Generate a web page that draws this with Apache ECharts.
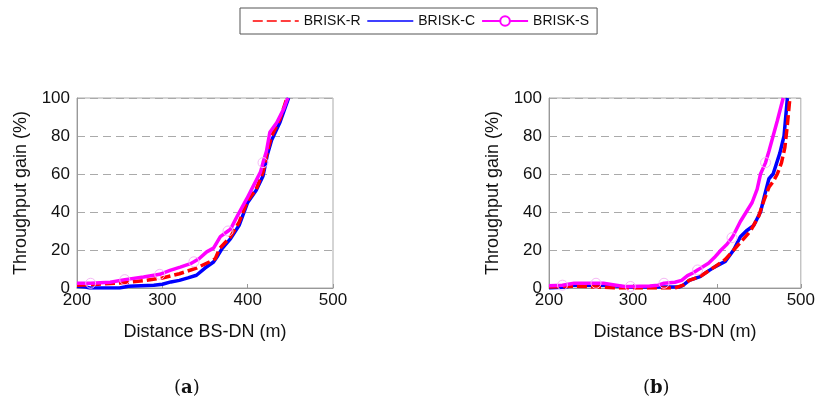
<!DOCTYPE html>
<html>
<head>
<meta charset="utf-8">
<script src="https://cdn.jsdelivr.net/npm/echarts@6/dist/echarts.min.js"></script>
<style>
  html, body { margin: 0; padding: 0; background: #fff; }
  #chart { width: 818px; height: 398px; }
</style>
</head>
<body>
<div id="chart"></div>
<script>
// panel (a)
var aDistR = [200, 225, 260, 280, 300, 320, 340, 355, 362, 367, 380, 390, 400, 410, 418, 423, 428, 438, 446];
var aGainR = [1.4, 2, 3, 4, 5.3, 7.5, 10.5, 13.7, 15.4, 20.7, 27, 34.7, 46, 52, 61, 71.6, 80, 89, 100];
var aDistC = [200, 210, 215, 250, 260, 290, 300, 310, 320, 330, 340, 350, 360, 365, 370, 380, 390, 400, 410, 418, 423, 428, 438, 448];
var aGainC = [0.9, 0.5, 0, 0, 0.9, 1.4, 2, 3.2, 4, 5.3, 6.7, 10.5, 13.7, 17, 20.7, 26, 33, 45, 51.4, 59, 70, 77.7, 87.4, 100];
var aDistS = [200, 216, 239, 256, 278, 297, 309, 321, 333, 337, 343, 352, 360, 368, 377, 380, 388, 399, 407, 415, 418, 422, 426, 434, 442, 447];
var aGainS = [2.5, 2.5, 3, 4.4, 5.8, 7.2, 9.3, 11, 12.8, 13.8, 15.4, 19, 21, 27, 30, 31, 38, 47, 54, 61, 66, 72, 82, 87, 94, 100];

// panel (b)
var bDistR = [200, 230, 260, 280, 350, 360, 367, 380, 390, 397, 410, 420, 430, 440, 450, 456, 462, 467, 472, 477, 481, 484, 487];
var bGainR = [0.5, 1, 0.5, 0, 0, 1.5, 4, 6, 9, 11, 15, 20, 25, 30, 38, 46, 53, 56, 60, 66, 74, 86, 100];
var bDistC = [200, 220, 230, 265, 280, 290, 355, 360, 367, 380, 390, 397, 410, 420, 428, 435, 444, 452, 457, 462, 467, 475, 480, 484];
var bGainC = [0, 0.5, 1.5, 1.5, 1, 0.5, 0.5, 1.5, 4, 6, 9, 11, 14, 20, 27, 30, 33, 40, 49, 57.5, 60, 71, 80, 100];
var bDistS = [200, 216, 230, 256, 265, 280, 290, 297, 320, 330, 337, 350, 358, 365, 372, 377, 381, 390, 397, 405, 412, 418, 420, 428, 435, 442, 448, 452, 458, 462, 467, 472, 479];
var bGainS = [1.2, 1.5, 2.5, 2.5, 2.5, 1.5, 0.8, 0.8, 1, 1.5, 2.5, 3, 4, 6.5, 8, 9.5, 10.5, 13, 16, 20, 23, 26.5, 28, 35, 40, 45, 52, 60, 66, 72, 80, 88, 100];

// where the faint circle markers of BRISK-S sit
var markerDist = [216, 256, 297, 337, 377, 418, 458];

var panelLabels = ['a', 'b'];

var FONT = 'Liberation Sans';

function pairs(xs, ys, withMarkers) {
  return xs.map(function (x, i) {
    if (!withMarkers) return [x, ys[i]];
    if (markerDist.indexOf(x) >= 0) {
      return {
        value: [x, ys[i]], symbol: 'circle', symbolSize: 10,
        itemStyle: { color: 'rgba(255,255,255,0)', borderColor: '#f5b8f5', borderWidth: 1 }
      };
    }
    return { value: [x, ys[i]], symbol: 'none' };
  });
}

function xAxisFor(idx) {
  return {
    type: 'value', gridIndex: idx, min: 200, max: 500, interval: 100,
    name: 'Distance BS-DN (m)', nameLocation: 'middle', nameGap: 35,
    nameTextStyle: { fontFamily: FONT, fontSize: 18, color: '#111' },
    axisLine: { lineStyle: { color: '#999' } },
    axisTick: { inside: true, length: 4, lineStyle: { color: '#999' } },
    axisLabel: { fontFamily: FONT, fontSize: 17, color: '#111', margin: 4, showMaxLabel: true },
    splitLine: { show: false }
  };
}

function yAxisFor(idx) {
  return {
    type: 'value', gridIndex: idx, min: 0, max: 100, interval: 20,
    name: 'Throughput gain (%)', nameLocation: 'middle', nameGap: 47,
    nameTextStyle: { fontFamily: FONT, fontSize: 18, color: '#111' },
    axisLine: { show: true, lineStyle: { color: '#999' } },
    axisTick: { show: false },
    axisLabel: { fontFamily: FONT, fontSize: 17, color: '#111', margin: 7 },
    splitLine: { show: true, lineStyle: { color: '#aaa', type: [8, 5], width: 1 } }
  };
}

function lineSeries(name, idx, data, color, dashed) {
  return {
    name: name, type: 'line', xAxisIndex: idx, yAxisIndex: idx,
    data: data, symbol: 'none', smooth: false, clip: true,
    lineStyle: { color: color, width: 3.5, type: dashed ? [10, 4] : 'solid' },
    itemStyle: { color: color },
    emphasis: { disabled: true }
  };
}

function sSeries(idx, data) {
  return {
    name: 'BRISK-S', type: 'line', xAxisIndex: idx, yAxisIndex: idx,
    data: data, symbol: 'emptyCircle', symbolSize: 10, showSymbol: true, clip: true,
    lineStyle: { color: '#ff00ff', width: 3.5 },
    itemStyle: { color: '#ff00ff', borderColor: '#ff00ff', borderWidth: 2 },
    emphasis: { disabled: true }
  };
}

function panelTitle(letter, left) {
  return {
    text: '({b|' + letter + '})', left: left, top: 374,
    textStyle: {
      fontFamily: 'DejaVu Serif', fontSize: 18, fontWeight: 'normal', color: '#111',
      rich: { b: { fontFamily: 'DejaVu Serif', fontSize: 18, fontWeight: 'bold', color: '#111' } }
    }
  };
}

var chart = echarts.init(document.getElementById('chart'), null, { renderer: 'canvas' });

chart.setOption({
  animation: false,
  backgroundColor: '#fff',
  legend: {
    data: [
      { name: 'BRISK-R', itemStyle: { opacity: 0 }, lineStyle: { width: 1.5 } },
      { name: 'BRISK-C', itemStyle: { opacity: 0 }, lineStyle: { width: 1.5 } },
      { name: 'BRISK-S', lineStyle: { width: 2 } }
    ],
    left: 240, top: 8,
    padding: [6, 8, 6, 12],
    itemWidth: 46, itemHeight: 12, itemGap: 6,
    borderColor: '#555', borderWidth: 1,
    textStyle: { fontFamily: FONT, fontSize: 14, color: '#111' }
  },
  title: [panelTitle(panelLabels[0], 169), panelTitle(panelLabels[1], 638)],
  grid: [
    { left: 77, top: 98, width: 256, height: 190, show: true, borderColor: '#aaa', borderWidth: 1 },
    { left: 549, top: 98, width: 256, height: 190, show: true, borderColor: '#aaa', borderWidth: 1 }
  ],
  xAxis: [xAxisFor(0), xAxisFor(1)],
  yAxis: [yAxisFor(0), yAxisFor(1)],
  series: [
    lineSeries('BRISK-C', 0, pairs(aDistC, aGainC), '#0000ff', false),
    lineSeries('BRISK-R', 0, pairs(aDistR, aGainR), '#ff0000', true),
    sSeries(0, pairs(aDistS, aGainS, true)),
    lineSeries('BRISK-C', 1, pairs(bDistC, bGainC), '#0000ff', false),
    lineSeries('BRISK-R', 1, pairs(bDistR, bGainR), '#ff0000', true),
    sSeries(1, pairs(bDistS, bGainS, true))
  ]
});
</script>
</body>
</html>
